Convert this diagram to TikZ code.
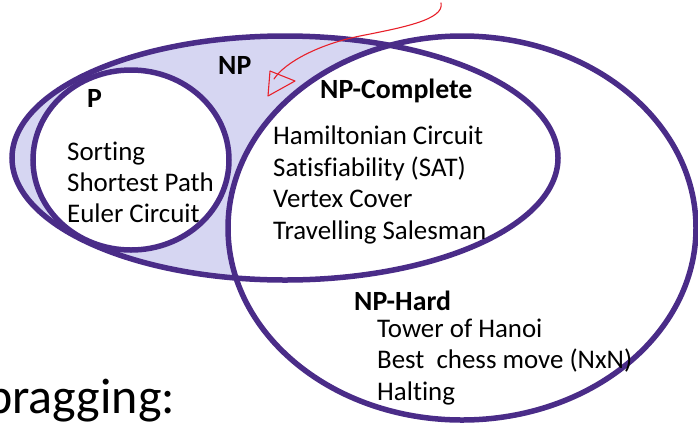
\documentclass[tikz,border=0pt]{standalone}
\usepackage{fontspec}
\setmainfont{Carlito}[Ligatures=NoCommon]
\definecolor{setline}{RGB}{74,44,136}
\definecolor{npfill}{RGB}{214,214,242}
\definecolor{annot}{RGB}{232,32,42}
\begin{document}
\begin{tikzpicture}[x=1pt,y=-1pt,
  setborder/.style={draw=setline,line width=5.5pt},
  setname/.style={font=\fontsize{27.8}{32}\selectfont\bfseries,anchor=base west,inner sep=0pt},
  item/.style={font=\fontsize{26.9}{31}\selectfont,anchor=base west,inner sep=0pt},
  redpen/.style={draw=annot,line width=1.1pt,line cap=round,line join=round}]
\useasboundingbox (0,0) rectangle (698,429);
\clip (0,0) rectangle (698,429);
% fills
\fill[npfill] (285,158) ellipse [x radius=273, y radius=122];
\fill[white] (462,228) ellipse [x radius=234, y radius=192];
\fill[white] (131,160) ellipse [x radius=98, y radius=90];
% outlines
\path[setborder] (285,158) ellipse [x radius=273, y radius=122];
\path[setborder] (462,228) ellipse [x radius=234, y radius=192];
\path[setborder] (131,160) ellipse [x radius=98, y radius=90];
% labels
\node[setname] (np) at (218,74) {NP};
\node[setname] (p) at (87,107) {P};
\node[setname] (npc) at (320,98) {NP-Complete};
\node[setname] (nph) at (354,310) {NP-Hard};
\node[item] (p1) at (67,160) {Sorting};
\node[item] (p2) at (67,191) {Shortest Path};
\node[item] (p3) at (67,222) {Euler Circuit};
\node[item] (c1) at (273,144) {Hamiltonian Circuit};
\node[item] (c2) at (273,176) {Satisfiability (SAT)};
\node[item] (c3) at (273,207.5) {Vertex Cover};
\node[item] (c4) at (273,239) {Travelling Salesman};
\node[item] (h1) at (377,337) {Tower of Hanoi};
\node[item] (h2) at (377,368) {Best\ \ chess move (NxN)};
\node[item] (h3) at (377,400) {Halting};
\node[font=\fontsize{50}{58}\selectfont,anchor=base west,inner sep=0pt] (brag) at (-14,413) {bragging:};
% red annotation arrow
\coordinate (penstart) at (441,3);
\coordinate (penend) at (274,79);
\draw[redpen] (penstart) .. controls (445,20) and (400,28) .. (360,36)
  .. controls (320,44) and (285,62) .. (penend);
\draw[redpen] (270,71) -- (295,81) -- (268,96) -- cycle;
\end{tikzpicture}
\end{document}
